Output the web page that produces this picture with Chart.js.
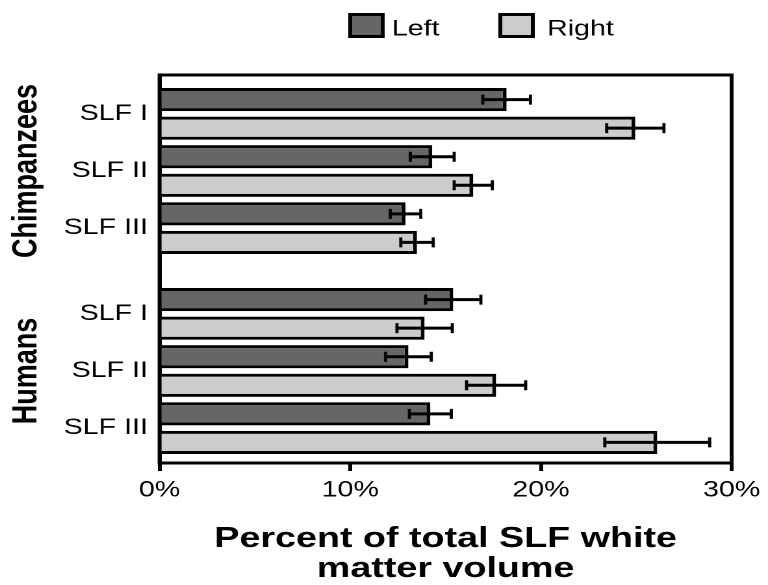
<!DOCTYPE html>
<html>
<head>
<meta charset="utf-8">
<script src="https://cdn.jsdelivr.net/npm/chart.js@4.4.1/dist/chart.umd.min.js"></script>
<style>
html, body { margin: 0; padding: 0; background: #fff; overflow: hidden; }
#wrap { width: 768px; height: 585px; overflow: hidden; }
#c { display: block; transform: scaleX(1.2995); transform-origin: 0 0; }
</style>
</head>
<body>
<div id="wrap"><canvas id="c" width="591" height="585"></canvas></div>
<script>
// ---- data ----
const groups = ['Chimpanzees', 'Humans'];
const tracts = ['SLF I', 'SLF II', 'SLF III'];
const seriesNames = ['Left', 'Right'];
const leftValues  = [18.2, 14.3, 12.9, 15.4, 13.05, 14.2];
const leftErrors  = [1.25, 1.15, 0.8, 1.45, 1.2, 1.1];
const rightValues = [24.95, 16.45, 13.5, 13.9, 17.65, 26.1];
const rightErrors = [1.5, 1.0, 0.85, 1.45, 1.55, 2.75];
const xTickValues = [0, 10, 20, 30];
const seriesColors = ['#666666', '#cccccc'];

// ---- index positions (one slot per bar, one empty slot between groups) ----
const SLOTS_PER_GROUP = tracts.length * 2 + 1;
const rows = groups.flatMap(g => tracts.map(t => ({ group: g, tract: t })));
function slot(i, side) {
  const g = Math.floor(i / tracts.length), t = i % tracts.length;
  return g * SLOTS_PER_GROUP + t * 2 + side;
}
const labelPositions = rows.map((r, i) => slot(i, 0) + 0.5);
const groupCenters = groups.map((g, gi) => gi * SLOTS_PER_GROUP + (tracts.length * 2 - 1) / 2);

Chart.defaults.font.family = "'Liberation Sans', Arial, Helvetica, sans-serif";
Chart.defaults.color = '#000';

const errorBarPlugin = {
  id: 'errorBars',
  afterDatasetsDraw(chart) {
    const ctx = chart.ctx, xs = chart.scales.x;
    chart.data.datasets.forEach((ds, di) => {
      const meta = chart.getDatasetMeta(di);
      meta.data.forEach((bar, i) => {
        const v = ds.data[i].x, e = ds.errors[i];
        const x1 = xs.getPixelForValue(v - e), x2 = xs.getPixelForValue(v + e);
        const y = bar.y;
        ctx.save();
        ctx.strokeStyle = '#000';
        ctx.lineWidth = 3;
        ctx.beginPath(); ctx.moveTo(x1, y); ctx.lineTo(x2, y); ctx.stroke();
        ctx.lineWidth = 2.4;
        ctx.beginPath();
        ctx.moveTo(x1, y - 5); ctx.lineTo(x1, y + 5);
        ctx.moveTo(x2, y - 5); ctx.lineTo(x2, y + 5);
        ctx.stroke();
        ctx.restore();
      });
    });
  }
};

const framePlugin = {
  id: 'frame',
  afterDraw(chart) {
    const { ctx, chartArea: a } = chart;
    ctx.save();
    ctx.strokeStyle = '#000';
    ctx.lineWidth = 3;
    ctx.strokeRect(a.left, a.top, a.right - a.left, a.bottom - a.top);
    ctx.restore();
  }
};

const groupLabelPlugin = {
  id: 'groupLabels',
  afterDraw(chart) {
    const { ctx } = chart, ys = chart.scales.y;
    ctx.save();
    ctx.fillStyle = '#000';
    ctx.font = "bold 27px 'Liberation Sans', Arial, sans-serif";
    ctx.textAlign = 'center';
    ctx.textBaseline = 'middle';
    groups.forEach((g, gi) => {
      ctx.save();
      ctx.translate(20.7, ys.getPixelForValue(groupCenters[gi]));
      ctx.rotate(-Math.PI / 2);
      ctx.fillText(g, 0, 0);
      ctx.restore();
    });
    ctx.restore();
  }
};

const legendPlugin = {
  id: 'customLegend',
  afterDraw(chart) {
    const { ctx } = chart;
    const boxX = [268, 383.5], textX = [301.5, 421];
    ctx.save();
    ctx.font = "22px 'Liberation Sans', Arial, sans-serif";
    ctx.textBaseline = 'alphabetic';
    ctx.textAlign = 'left';
    chart.data.datasets.forEach((ds, di) => {
      ctx.fillStyle = ds.backgroundColor;
      ctx.fillRect(boxX[di], 13, 28, 25);
      ctx.strokeStyle = '#000';
      ctx.lineWidth = 3;
      ctx.strokeRect(boxX[di] + 1.5, 14.5, 25, 22);
      ctx.fillStyle = '#000';
      ctx.fillText(ds.label, textX[di], 35.5);
    });
    ctx.restore();
  }
};

new Chart(document.getElementById('c'), {
  type: 'bar',
  data: {
    datasets: [
      {
        label: seriesNames[0],
        data: leftValues.map((v, i) => ({ x: v, y: slot(i, 0) })),
        errors: leftErrors,
        backgroundColor: seriesColors[0],
        borderColor: '#000',
        borderWidth: 3
      },
      {
        label: seriesNames[1],
        data: rightValues.map((v, i) => ({ x: v, y: slot(i, 1) })),
        errors: rightErrors,
        backgroundColor: seriesColors[1],
        borderColor: '#000',
        borderWidth: 3
      }
    ]
  },
  options: {
    responsive: false,
    animation: false,
    devicePixelRatio: 2,
    indexAxis: 'y',
    layout: { padding: { top: 75, right: 25.6, bottom: 0, left: 0 } },
    datasets: { bar: { grouped: false, categoryPercentage: 1, barPercentage: 0.81 } },
    plugins: { legend: { display: false }, tooltip: { enabled: false } },
    scales: {
      x: {
        type: 'linear',
        position: 'bottom',
        min: 0,
        max: 30,
        offset: false,
        afterBuildTicks: s => { s.ticks = xTickValues.map(v => ({ value: v })); },
        ticks: { callback: v => v + '%', color: '#000', font: { size: 22 }, padding: 6, autoSkip: false, maxRotation: 0 },
        grid: { offset: false, drawOnChartArea: false, drawTicks: true, tickLength: 8, tickWidth: 3, tickColor: '#000' },
        border: { display: true, color: '#000', width: 3 },
        title: {
          display: true,
          text: ['Percent of total SLF white', 'matter volume'],
          color: '#000',
          font: { size: 29, weight: 'bold', lineHeight: 30 / 29 },
          padding: { top: 14.6, bottom: 1 }
        }
      },
      y: {
        type: 'linear',
        position: 'left',
        reverse: true,
        offset: false,
        min: -0.86,
        max: 12.72,
        afterBuildTicks: s => { s.ticks = labelPositions.map(v => ({ value: v })); },
        afterFit: s => { s.width = 122.8; },
        ticks: { callback: (v, i) => rows[i].tract, color: '#000', font: { size: 22 }, padding: 9, autoSkip: false },
        grid: { offset: false, drawOnChartArea: false, drawTicks: false },
        border: { display: true, color: '#000', width: 3 }
      }
    }
  },
  plugins: [errorBarPlugin, framePlugin, groupLabelPlugin, legendPlugin]
});
</script>
</body>
</html>
